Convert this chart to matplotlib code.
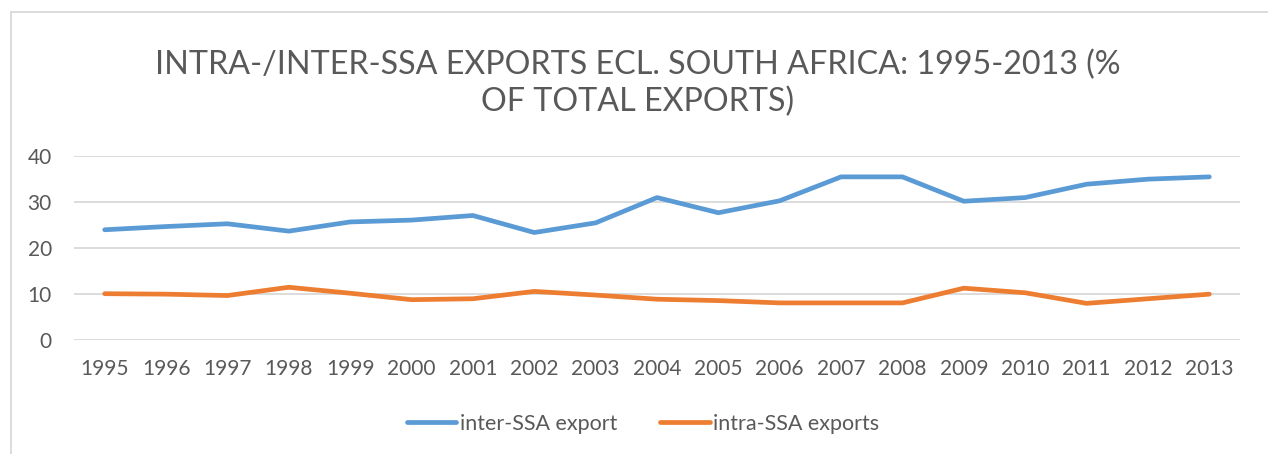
import matplotlib
matplotlib.use("Agg")
import matplotlib.pyplot as plt
from matplotlib.lines import Line2D

years = [str(y) for y in range(1995, 2014)]
inter_ssa = [23.9, 24.6, 25.2, 23.6, 25.6, 26.0, 27.0, 23.3, 25.4, 30.9,
             27.6, 30.2, 35.4, 35.4, 30.1, 30.9, 33.8, 34.9, 35.4]
intra_ssa = [10.0, 9.9, 9.6, 11.4, 10.1, 8.7, 8.9, 10.5, 9.7, 8.8,
             8.5, 8.0, 8.0, 8.0, 11.2, 10.2, 7.9, 8.9, 9.9]
series_names = ["inter-SSA export", "intra-SSA exports"]
title = "INTRA-/INTER-SSA EXPORTS ECL. SOUTH AFRICA: 1995-2013 (%\nOF TOTAL EXPORTS)"

plt.rcParams['font.family'] = ['Lato', 'DejaVu Sans']
txt = '#595959'
blue = '#5B9BD5'
orange = '#ED7D31'

W, H = 1268, 454
fig = plt.figure(figsize=(W / 100, H / 100), dpi=100)
ax = fig.add_axes([74 / W, 1 - 339.7 / H, (1240 - 74) / W, (339.7 - 155.7) / H])

x = list(range(len(years)))
ax.plot(x, inter_ssa, color=blue, lw=3.4, solid_capstyle='round', solid_joinstyle='round', zorder=3)
ax.plot(x, intra_ssa, color=orange, lw=3.4, solid_capstyle='round', solid_joinstyle='round', zorder=3)

ax.set_xlim(-0.5, len(years) - 0.5)
ax.set_ylim(0, 40)
ax.set_yticks([0, 10, 20, 30, 40])
ax.set_xticks(x)
ax.set_xticklabels(years)
ax.grid(axis='y', color='#D9D9D9', lw=1.3)
ax.set_axisbelow(True)
for s in ax.spines.values():
    s.set_visible(False)
ax.tick_params(axis='both', length=0, labelsize=15, colors=txt)
ax.tick_params(axis='x', pad=14)
ax.tick_params(axis='y', pad=16)

fig.text(638 / W, 1 - 83.5 / H, title, ha='center', va='center', fontsize=23.2,
         color=txt, linespacing=1.3)

handles = [Line2D([], [], color=blue, lw=3.4, solid_capstyle='round'),
           Line2D([], [], color=orange, lw=3.4, solid_capstyle='round')]
fig.legend(handles, series_names, loc='center', bbox_to_anchor=(643 / W, 1 - 424 / H),
           ncol=2, frameon=False, fontsize=15.5, labelcolor=txt, handlelength=2.3,
           handletextpad=0.15, columnspacing=2.0)

# chart border (cropped on right/bottom)
fig.add_artist(Line2D([10.5 / W, 10.5 / W], [0, 1 - 11.5 / H], color='#D9D9D9', lw=1.3,
                      transform=fig.transFigure))
fig.add_artist(Line2D([10.5 / W, 1], [1 - 11.5 / H, 1 - 11.5 / H], color='#D9D9D9', lw=1.3,
                      transform=fig.transFigure))

fig.savefig('out.png', dpi=100, facecolor='white')
